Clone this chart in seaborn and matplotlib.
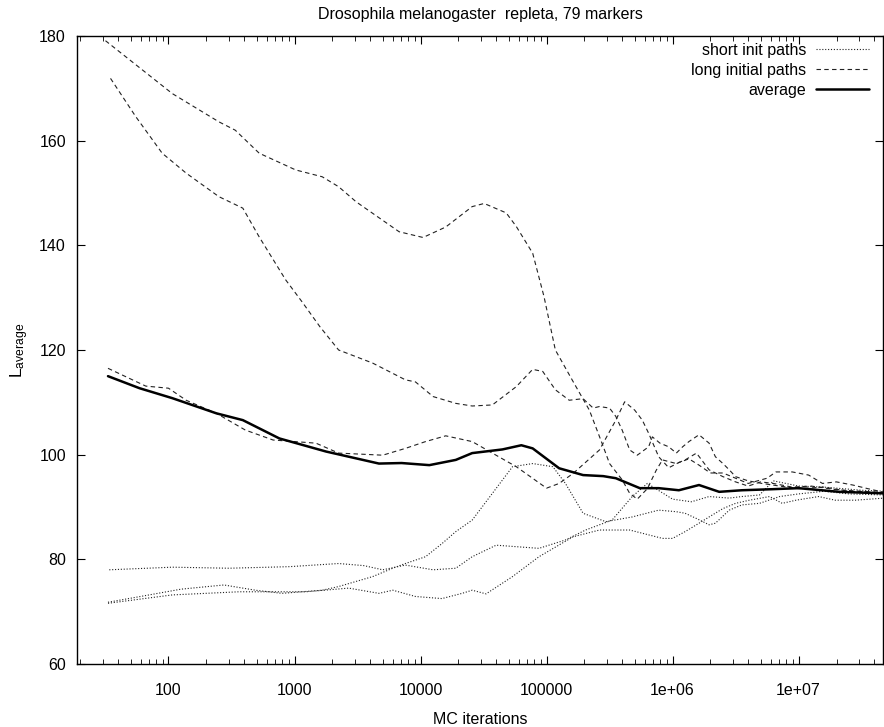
import numpy as np
import pandas as pd
import matplotlib
matplotlib.use("Agg")
import matplotlib.pyplot as plt
from matplotlib.ticker import LogLocator, FixedLocator, FixedFormatter, NullFormatter
import seaborn as sns

# ---------------- data (x given as log10 of MC iterations) ----------------
long_a_lx = [1.50, 2.03, 2.40, 2.53, 2.72, 3.01, 3.22, 3.35, 3.49, 3.83, 4.02, 4.20, 4.41, 4.505,
             4.68, 4.76, 4.89, 4.98, 5.07, 5.21, 5.34, 5.44, 5.50, 5.60, 5.66, 5.72, 5.80, 5.87,
             5.92, 6.03, 6.10, 6.19, 6.29, 6.40, 6.50, 6.60, 6.70, 6.80, 6.95, 7.10, 7.30, 7.50, 7.68]
long_a_y = [179.1, 169.0, 163.6, 162.0, 157.6, 154.4, 153.1, 151.2, 148.3, 142.6, 141.5, 143.5, 147.4, 148.0,
            146.2, 143.6, 138.5, 130.2, 120.0, 114.0, 108.5, 102.2, 98.3, 95.2, 92.6, 91.5, 93.5, 97.0,
            99.0, 98.3, 99.0, 100.3, 97.1, 95.8, 94.8, 94.0, 94.8, 94.5, 93.8, 94.0, 93.3, 93.0, 92.7]

long_b_lx = [1.54, 1.74, 1.95, 2.14, 2.40, 2.59, 2.72, 2.93, 3.06, 3.20, 3.35, 3.62, 3.88, 3.96, 4.10,
             4.28, 4.41, 4.57, 4.76, 4.89, 4.97, 5.07, 5.18, 5.29, 5.37, 5.42, 5.50, 5.55, 5.60, 5.66,
             5.72, 5.81, 5.84, 5.90, 5.97, 6.03, 6.08, 6.13, 6.21, 6.29, 6.34, 6.40, 6.45, 6.50, 6.60,
             6.71, 6.85, 7.00, 7.20, 7.40, 7.68]
long_b_y = [171.9, 164.6, 157.6, 153.8, 149.3, 147.1, 141.6, 133.4, 129.2, 124.5, 120.0, 117.5, 114.3, 113.9, 111.1,
            109.8, 109.3, 109.5, 113.0, 116.3, 115.9, 112.4, 110.4, 110.7, 108.9, 109.2, 108.9, 107.3, 104.7, 100.9,
            99.9, 101.5, 103.4, 102.2, 101.5, 100.3, 101.5, 102.5, 103.8, 102.2, 99.6, 98.3, 97.1, 95.8, 95.0,
            94.5, 94.0, 93.5, 93.8, 93.0, 92.8]

long_c_lx = [1.52, 1.82, 2.00, 2.14, 2.38, 2.61, 2.83, 3.17, 3.35, 3.70, 3.88, 4.04, 4.20, 4.41, 4.57,
             4.76, 5.00, 5.10, 5.21, 5.42, 5.55, 5.62, 5.70, 5.76, 5.81, 5.89, 5.97, 6.05, 6.13, 6.21,
             6.30, 6.40, 6.50, 6.60, 6.75, 6.82, 6.95, 7.08, 7.19, 7.30, 7.43, 7.55, 7.68]
long_c_y = [116.5, 113.1, 112.7, 110.4, 107.9, 104.7, 102.8, 102.2, 100.3, 99.9, 101.2, 102.5, 103.6, 102.5, 100.3,
            97.7, 93.6, 94.5, 96.4, 100.9, 106.6, 110.1, 108.5, 106.6, 104.1, 99.6, 97.5, 98.5, 99.2, 98.0,
            96.5, 96.5, 95.5, 94.5, 95.5, 96.7, 96.7, 96.1, 94.5, 94.8, 94.2, 93.5, 92.8]

short_a_lx = [1.53, 2.03, 2.48, 2.96, 3.35, 3.55, 3.70, 3.88, 4.10, 4.28, 4.41, 4.60, 4.94, 5.15, 5.31,
              5.52, 5.68, 5.80, 5.90, 6.00, 6.15, 6.29, 6.45, 6.55, 6.69, 6.80, 6.90, 7.00, 7.20, 7.50, 7.68]
short_a_y = [78.0, 78.5, 78.3, 78.6, 79.2, 78.8, 78.0, 78.9, 78.0, 78.3, 80.5, 82.7, 82.1, 83.7, 85.6,
             87.5, 92.0, 94.5, 93.0, 91.5, 91.0, 92.0, 91.7, 92.0, 92.3, 95.0, 94.5, 94.0, 93.8, 93.2, 93.0]

short_b_lx = [1.52, 1.80, 2.10, 2.44, 2.69, 2.90, 3.22, 3.35, 3.62, 3.80, 3.88, 4.04, 4.17, 4.28, 4.41,
              4.57, 4.73, 4.89, 5.05, 5.15, 5.29, 5.47, 5.68, 5.89, 6.03, 6.10, 6.19, 6.29, 6.34, 6.45,
              6.55, 6.69, 6.85, 7.00, 7.20, 7.40, 7.68]
short_b_y = [71.8, 73.0, 74.3, 75.1, 74.1, 73.5, 74.1, 74.8, 76.7, 78.5, 79.2, 80.5, 83.0, 85.3, 87.5,
             92.6, 97.7, 98.3, 97.7, 94.5, 88.8, 87.2, 88.1, 89.4, 89.1, 88.8, 87.8, 86.6, 86.9, 89.4,
             90.4, 90.7, 92.0, 92.5, 93.0, 92.5, 92.3]

short_c_lx = [1.52, 2.03, 2.56, 3.09, 3.43, 3.67, 3.78, 3.96, 4.17, 4.33, 4.41, 4.52, 4.73, 4.94, 5.21,
              5.42, 5.66, 5.92, 6.00, 6.10, 6.21, 6.29, 6.40, 6.50, 6.61, 6.77, 6.87, 6.98, 7.16, 7.29,
              7.45, 7.68]
short_c_y = [71.6, 73.2, 73.8, 73.8, 74.5, 73.5, 74.1, 72.9, 72.5, 73.5, 74.1, 73.4, 76.7, 80.5, 84.3,
             85.6, 85.6, 84.0, 84.0, 85.3, 86.9, 88.1, 89.7, 90.7, 91.3, 92.0, 90.7, 91.3, 92.0, 91.3,
             91.3, 91.7]

avg_lx = [1.52, 1.77, 2.03, 2.38, 2.59, 2.88, 3.25, 3.67, 3.85, 4.07, 4.28, 4.41, 4.65, 4.80, 4.89,
          5.10, 5.29, 5.45, 5.55, 5.74, 5.89, 6.05, 6.21, 6.37, 6.55, 6.79, 7.00, 7.32, 7.68]
avg_y = [115.0, 112.7, 110.8, 107.9, 106.6, 103.1, 100.6, 98.3, 98.4, 98.0, 99.0, 100.3, 101.0, 101.8, 101.2,
         97.4, 96.1, 95.9, 95.5, 93.6, 93.6, 93.2, 94.2, 92.9, 93.2, 93.4, 93.6, 92.9, 92.6]

title = "Drosophila melanogaster  repleta, 79 markers"
x_label = "MC iterations"
y_label = r"L$_{\mathrm{average}}$"
x_ticks = [100, 1000, 10000, 100000, 1e6, 1e7]
x_tick_labels = ["100", "1000", "10000", "100000", "1e+06", "1e+07"]
y_ticks = [60, 80, 100, 120, 140, 160, 180]
legend_labels = ["short init paths", "long initial paths", "average"]

# ---------------- style ----------------
sns.set_style("ticks")
plt.rcParams["font.family"] = ["Liberation Sans", "DejaVu Sans"]
plt.rcParams["mathtext.fontset"] = "custom"
plt.rcParams["mathtext.rm"] = "Liberation Sans"
plt.rcParams["mathtext.it"] = "Liberation Sans:italic"
plt.rcParams["text.color"] = "black"
plt.rcParams["axes.labelcolor"] = "black"
plt.rcParams["xtick.color"] = "black"
plt.rcParams["ytick.color"] = "black"

fig = plt.figure(figsize=(8.84, 7.27), dpi=100)
ax = fig.add_axes([77 / 884, 1 - 664 / 727, (883 - 77) / 884, (664 - 36) / 727])

def draw(lx, y, style, lw, label, color="black"):
    df = pd.DataFrame({"it": 10 ** np.asarray(lx), "L": y})
    sns.lineplot(data=df, x="it", y="L", ax=ax, color=color, lw=lw,
                 estimator=None, sort=False, label=label, **style)

dot = dict(dashes=False, linestyle=(0, (1, 1.6)))
dash = dict(dashes=False, linestyle=(0, (4, 3)))

draw(short_a_lx, short_a_y, dot, 0.8, legend_labels[0], "#222222")
draw(short_b_lx, short_b_y, dot, 0.8, "_nolegend_", "#222222")
draw(short_c_lx, short_c_y, dot, 0.8, "_nolegend_", "#222222")
draw(long_a_lx, long_a_y, dash, 0.8, legend_labels[1], "#222222")
draw(long_b_lx, long_b_y, dash, 0.8, "_nolegend_", "#222222")
draw(long_c_lx, long_c_y, dash, 0.8, "_nolegend_", "#222222")
draw(avg_lx, avg_y, dict(dashes=False, linestyle="-"), 1.8, legend_labels[2])

ax.set_xscale("log")
ax.set_xlim(10 ** 1.274, 10 ** 7.67)
ax.set_ylim(60, 180)

ax.xaxis.set_major_locator(FixedLocator(x_ticks))
ax.xaxis.set_major_formatter(FixedFormatter(x_tick_labels))
ax.xaxis.set_minor_locator(LogLocator(base=10, subs=np.arange(2, 10), numticks=20))
ax.xaxis.set_minor_formatter(NullFormatter())
ax.set_yticks(y_ticks)

ax.tick_params(axis="both", which="major", direction="in", length=6, width=0.8,
               top=True, right=True, labelsize=11.5, pad=8)
ax.tick_params(axis="x", which="minor", direction="in", length=3.5, width=0.6, top=True)
ax.tick_params(axis="x", which="major", pad=14)
for s in ax.spines.values():
    s.set_linewidth(1.0)
    s.set_color("black")

ax.set_title(title, fontsize=11.5, pad=12)
ax.set_xlabel(x_label, fontsize=11.5, labelpad=10)
ax.set_ylabel(y_label, fontsize=12.5, labelpad=6)

leg = ax.legend(loc="upper right", bbox_to_anchor=(1.0, 1.012), frameon=False, markerfirst=False,
                fontsize=11.5, handlelength=3.3, handletextpad=0.6, labelspacing=0.32,
                borderaxespad=0.3, borderpad=0.6)

fig.savefig("out.png", dpi=100)
